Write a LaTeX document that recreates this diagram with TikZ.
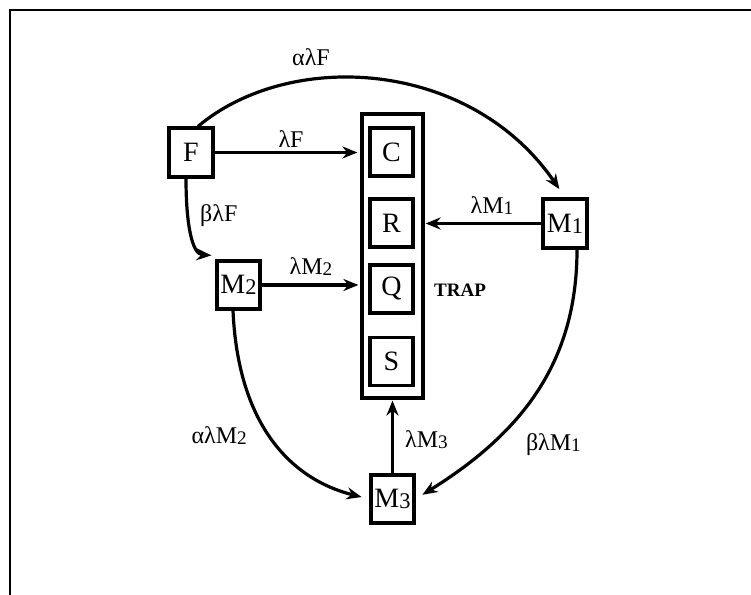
\documentclass[tikz,border=0pt]{standalone}
\usepackage{fontspec}
\usepackage{graphicx}
\setmainfont{Liberation Serif}
\usetikzlibrary{arrows.meta}
\newcommand\dg[1]{\raisebox{-0.04em}{\scalebox{0.8}{#1}}}
\begin{document}
\begin{tikzpicture}[x=1pt,y=1pt,
  box/.style={draw,line width=3.2pt,minimum width=43pt,minimum height=48pt,inner sep=0pt,font=\fontsize{28}{32}\selectfont},
  lab/.style={font=\fontsize{24}{28}\selectfont,inner sep=1pt},
  arr/.style={line width=3.2pt,-{Stealth[length=15pt,width=12pt]}}]
\useasboundingbox (0,0) rectangle (751,594);
% frame
\coordinate (fbl) at (10,-5);
\coordinate (ftl) at (10,584);
\coordinate (ftr) at (760,584);
\draw[line width=1.8pt] (fbl) -- (ftl) -- (ftr);
% trap
\node[draw,line width=3.2pt,minimum width=61pt,minimum height=284pt,inner sep=0pt] (trap) at (392.5,338) {};
\node[box] (C) at (391.5,442) {C};
\node[box] (R) at (391.5,371) {R};
\node[box] (Q) at (391.5,305) {Q};
\node[box] (S) at (391.5,232.5) {S};
\node[font=\bfseries\fontsize{19}{22}\selectfont] (traplab) at (460,304) {TRAP};
% others
\node[box,minimum width=44pt,minimum height=49pt] (F) at (191,441.5) {F};
\node[box,minimum width=44pt,minimum height=49pt] (M1) at (565,370.5) {M\dg{1}};
\node[box] (M2) at (238.5,309) {M\dg{2}};
\node[box] (M3) at (392.5,95) {M\dg{3}};
% straight arrows
\draw[arr,shorten >=3pt] (F.east) -- (F.east -| trap.west);
\draw[arr,shorten >=1pt] (M1.west) -- (M1.west -| trap.east);
\draw[arr,shorten >=2pt] (M2.east) -- (M2.east -| trap.west);
\draw[arr,shorten >=1pt] (M3.north) -- (M3.north |- trap.south);
% curved arrows
\draw[arr,shorten >=10pt] ([xshift=7pt]F.north) .. controls (290,545) and (470,535) .. (M1.north);
\draw[arr] ([xshift=-5pt]F.south) .. controls (186,370) and (192,340) .. ([shift={(-4pt,4pt)}]M2.north west);
\draw[arr,shorten >=8pt] ([xshift=-5.5pt]M2.south) .. controls (238,170) and (290,115) .. (M3.west);
\draw[arr,shorten >=8pt] ([xshift=12pt]M1.south) .. controls (577,230) and (520,160) .. (M3.east);
% labels
\node[lab] (l1) at (311,537) {αλF};
\node[lab] (l2) at (291,455) {λF};
\node[lab,anchor=west] (l3) at (199,378) {βλF};
\node[lab] (l4) at (311,327) {λM\dg{2}};
\node[lab] (l5) at (492,388) {λM\dg{1}};
\node[lab,anchor=west] (l6) at (404,154) {λM\dg{3}};
\node[lab,anchor=east] (l7) at (248,158) {αλM\dg{2}};
\node[lab,anchor=east] (l8) at (582,149) {βλM\dg{1}};
\end{tikzpicture}
\end{document}
